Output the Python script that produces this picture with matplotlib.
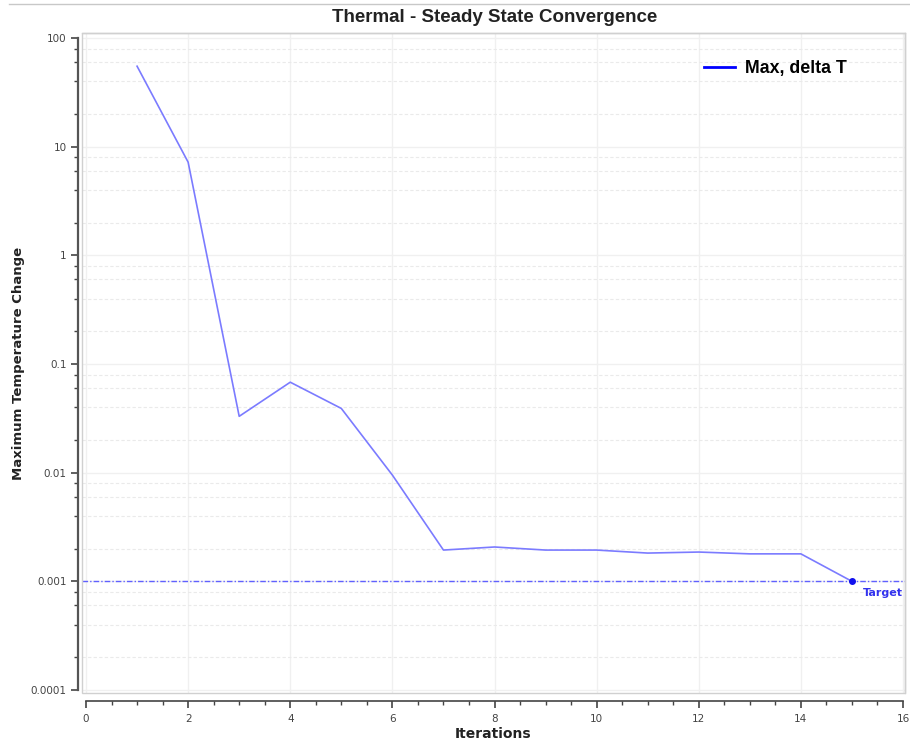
import matplotlib
matplotlib.use('Agg')
import matplotlib.pyplot as plt
from matplotlib.ticker import FixedLocator, FuncFormatter, NullFormatter
from matplotlib.patches import Rectangle
from matplotlib.lines import Line2D

# iteration number and max temperature change per iteration
iterations = [1, 2, 3, 4, 5, 6, 7, 8, 9, 10, 11, 12, 13, 14, 15]
max_delta_t = [55, 7.2, 0.033, 0.068, 0.039, 0.0095, 0.00194, 0.00207,
               0.00194, 0.00194, 0.00182, 0.00186, 0.00179, 0.00179, 0.001]
target = 0.001
y_major = [1e-4, 1e-3, 1e-2, 1e-1, 1, 10, 100]
y_labels = ['0.0001', '0.001', '0.01', '0.1', '1', '10', '100']
x_major = [0, 2, 4, 6, 8, 10, 12, 14, 16]

line_col = '#7b7bff'
tick_col = '#444444'

fig = plt.figure(figsize=(9.10, 7.42), dpi=100)
ax = fig.add_axes([82 / 910, 1 - 693 / 742, 823 / 910, 660 / 742])

ax.set_yscale('log')
ax.set_xlim(-4 / 51, 16 + 2 / 51)
ax.set_ylim(10 ** (-4 - 3 / 108.7), 10 ** (2 + 5 / 108.7))

ax.plot(iterations, max_delta_t, color=line_col, lw=1.2, zorder=3)
ax.axhline(target, color='#6060ff', lw=1.0, ls=(0, (4, 1.5, 1, 1.5)), zorder=2)
ax.plot([iterations[-1]], [max_delta_t[-1]], 'o', color='#1010ee', ms=4, zorder=4)
ax.text(iterations[-1] + 0.22, target * 0.86, 'Target', color='#3333ee',
        fontsize=8, fontweight='bold', ha='left', va='top')

# ticks
ax.yaxis.set_major_locator(FixedLocator(y_major))
ax.yaxis.set_major_formatter(FuncFormatter(lambda v, p: y_labels[y_major.index(v)] if v in y_major else ''))
minors = [m * 10.0 ** e for e in range(-4, 2) for m in (2, 4, 6, 8)]
ax.yaxis.set_minor_locator(FixedLocator(minors))
ax.yaxis.set_minor_formatter(NullFormatter())
ax.xaxis.set_major_locator(FixedLocator(x_major))
ax.xaxis.set_minor_locator(FixedLocator([i * 0.5 for i in range(33)]))
ax.tick_params(axis='both', which='major', labelsize=7.5, colors=tick_col,
               direction='out', width=1.2, length=5)
ax.tick_params(axis='both', which='minor', direction='out', width=1.0,
               length=3, colors=tick_col)
for lbl in ax.get_xticklabels() + ax.get_yticklabels():
    lbl.set_fontweight('bold')
    lbl.set_color('#555555')
ax.tick_params(axis='x', pad=4)
ax.tick_params(axis='y', pad=3)

# grid
ax.grid(True, which='major', axis='both', color='#f0f0f0', lw=1.0, zorder=0)
ax.grid(True, which='minor', axis='y', color='#eaeaea', lw=0.8, ls=(0, (3, 2)), zorder=0)
ax.set_axisbelow(True)

# spines
for s in ['top', 'right']:
    ax.spines[s].set_color('#cccccc')
    ax.spines[s].set_linewidth(1.0)
ax.spines['left'].set_position(('outward', 3))
ax.spines['left'].set_bounds(1e-4, 100)
ax.spines['left'].set_color('#555555')
ax.spines['left'].set_linewidth(1.6)
ax.spines['bottom'].set_position(('outward', 6))
ax.spines['bottom'].set_bounds(0, 16)
ax.spines['bottom'].set_color('#444444')
ax.spines['bottom'].set_linewidth(1.2)
ax.add_patch(Rectangle((0, 0), 1, 1, transform=ax.transAxes, fill=False,
                       ec='#d0d0d0', lw=1.0, zorder=5, clip_on=False))

ax.set_xlabel('Iterations', fontsize=10, fontweight='bold', color='#222222', labelpad=2)
ax.set_ylabel('Maximum Temperature Change', fontsize=9.5, fontweight='bold',
              color='#222222', labelpad=4)

fig.text(495 / 910, 1 - 17 / 742, 'Thermal - Steady State Convergence', ha='center',
         va='center', fontsize=13.5, fontweight='bold', family='Liberation Sans',
         color='#222222')
fig.add_artist(Line2D([9 / 910, 1], [1 - 4 / 742, 1 - 4 / 742], color='#c8c8c8', lw=1.0))

handle = Line2D([], [], color='#0000ff', lw=2)
leg = ax.legend([handle], ['Max, delta T'], loc='center left',
                bbox_to_anchor=((688 - 82) / 823, (693 - 69) / 660),
                frameon=False, handlelength=1.75, handletextpad=0.55,
                prop={'family': 'Liberation Sans', 'weight': 'bold', 'size': 12.8})

fig.savefig('out.png', dpi=100, facecolor='white')
